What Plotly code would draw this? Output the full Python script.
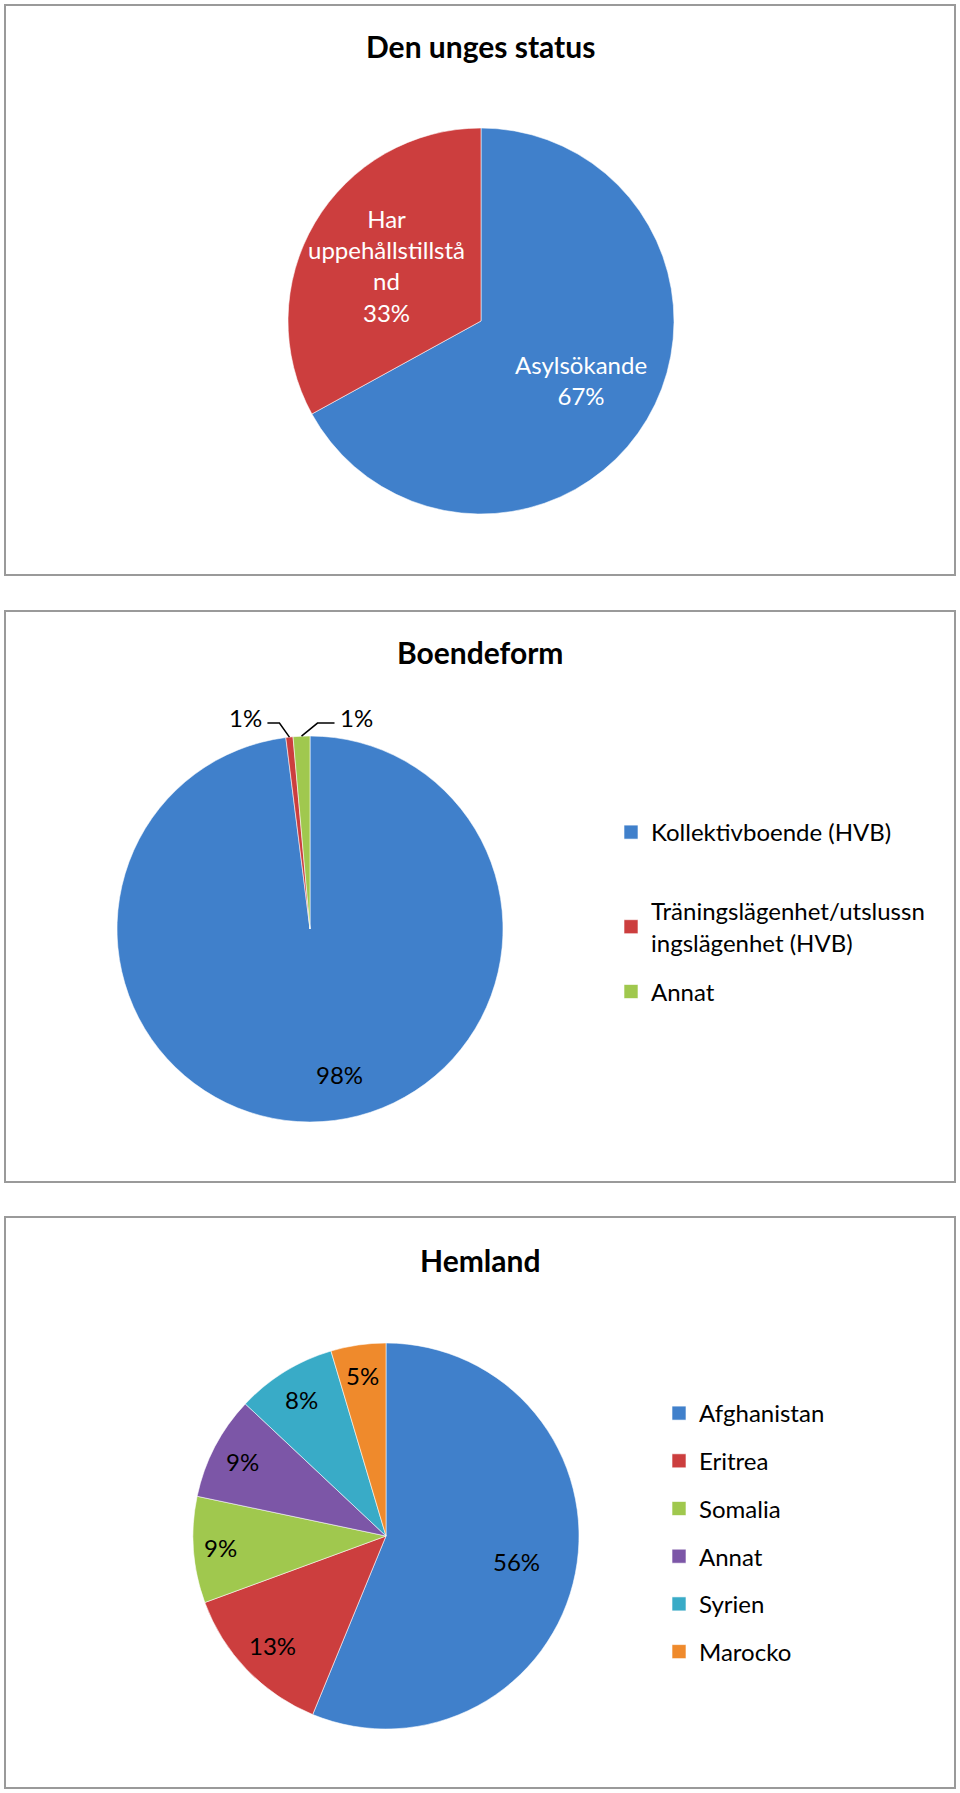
import math
import plotly.graph_objects as go

W, H = 960, 1793

# ---------------- data ----------------
status_labels = ["Asylsökande", "Har uppehållstillstånd"]
status_display = ["Asylsökande", "Har<br>uppehållstillstå<br>nd"]
status_values = [67, 33]

boende_labels = ["Kollektivboende (HVB)",
                 "Träningslägenhet/utslussningslägenhet (HVB)",
                 "Annat"]
boende_legend = ["Kollektivboende (HVB)",
                 "Träningslägenhet/utslussn<br>ingslägenhet (HVB)",
                 "Annat"]
boende_values = [98.0, 0.6, 1.4]

hemland_labels = ["Afghanistan", "Eritrea", "Somalia", "Annat", "Syrien", "Marocko"]
hemland_values = [56.2, 13.2, 8.9, 8.7, 8.4, 4.6]

titles = ["Den unges status", "Boendeform", "Hemland"]

# ---------------- style ----------------
BLUE, RED, GREEN = "#4080CB", "#CC3E3E", "#A0C84E"
PURPLE, CYAN, ORANGE = "#7C56A7", "#39ABC7", "#EF8A2C"
status_colors = [BLUE, RED]
boende_colors = [BLUE, RED, GREEN]
hemland_colors = [BLUE, RED, GREEN, PURPLE, CYAN, ORANGE]

FONT = "Lato, 'Open Sans', sans-serif"
LBL = 24
TITLE = 30

panels = [(5, 5, 955, 575), (5, 611, 955, 1182), (5, 1217, 955, 1788)]
title_y = [46, 652, 1260]
pies = [dict(cx=481, cy=321, r=193), dict(cx=310, cy=929, r=193), dict(cx=386, cy=1536, r=193)]

status_lbl_r = [0.60, 0.57]
boende_lbl = {0: (0.77, -8)}
hemland_lbl_r = [0.69, 0.82, 0.86, 0.84, 0.83, 0.84]
# legend groups for panel 2: first entry alone, remaining two together
boende_legend_ref = ["legend", "legend3", "legend3"]


def px(x):
    return x / W


def py(y):
    return 1 - y / H


def domain(p):
    return dict(x=[px(p["cx"] - p["r"]), px(p["cx"] + p["r"])],
                y=[py(p["cy"] + p["r"]), py(p["cy"] - p["r"])])


def mid_angles(values):
    tot = sum(values)
    out, acc = [], 0.0
    for v in values:
        out.append((acc + v / 2) / tot * 360)
        acc += v
    return out


def pct(values):
    tot = sum(values)
    return [f"{int(v / tot * 100 + 0.5)}%" for v in values]


def polar(p, ang, frac):
    a = math.radians(ang)
    return p["cx"] + frac * p["r"] * math.sin(a), p["cy"] - frac * p["r"] * math.cos(a)


fig = go.Figure()

line = dict(color="rgba(255,255,255,0.55)", width=1)
for vals, labs, cols, p in [(status_values, status_labels, status_colors, pies[0]),
                            (boende_values, boende_labels, boende_colors, pies[1]),
                            (hemland_values, hemland_labels, hemland_colors, pies[2])]:
    fig.add_trace(go.Pie(values=vals, labels=labs, sort=False, direction="clockwise",
                         rotation=0, textinfo="none", hoverinfo="label+percent",
                         marker=dict(colors=cols, line=line), domain=domain(p),
                         showlegend=False))

mk_line = dict(color="rgba(255,255,255,0.6)", width=1)
for i, (nm, c) in enumerate(zip(boende_legend, boende_colors)):
    fig.add_trace(go.Scatter(x=[None], y=[None], mode="markers", name=nm,
                             marker=dict(symbol="square", size=14, color=c, line=mk_line),
                             legend=boende_legend_ref[i], legendgroup=f"b{i}", showlegend=True))
for i, (nm, c) in enumerate(zip(hemland_labels, hemland_colors)):
    fig.add_trace(go.Scatter(x=[None], y=[None], mode="markers", name=nm,
                             marker=dict(symbol="square", size=14, color=c, line=mk_line),
                             legend="legend2", legendgroup=f"h{i}", showlegend=True))

ann = []
shapes = []
for (x0, y0, x1, y1) in panels:
    shapes.append(dict(type="rect", xref="paper", yref="paper", x0=px(x0), x1=px(x1),
                       y0=py(y1), y1=py(y0), line=dict(color="#9a9a9a", width=2)))
for t, ty in zip(titles, title_y):
    ann.append(dict(text=f"<b>{t}</b>", x=0.5, y=py(ty), xref="paper", yref="paper",
                    showarrow=False, font=dict(family=FONT, size=TITLE, color="#000"),
                    xanchor="center", yanchor="middle"))

# status labels
ps = pct(status_values)
for i, a in enumerate(mid_angles(status_values)):
    x, y = polar(pies[0], a, status_lbl_r[i])
    ann.append(dict(text=f"{status_display[i]}<br>{ps[i]}", x=px(x), y=py(y), xref="paper",
                    yref="paper", showarrow=False, align="center",
                    font=dict(family=FONT, size=LBL, color="#ffffff"),
                    xanchor="center", yanchor="middle"))

# boende labels
pb = pct(boende_values)
p2 = pies[1]
outside = {1: (-1, -10, 12), 2: (1, 16, 17)}
for i, a in enumerate(mid_angles(boende_values)):
    if i in boende_lbl:
        fr, da = boende_lbl[i]
        x, y = polar(p2, a + da, fr)
        ann.append(dict(text=pb[i], x=px(x), y=py(y), xref="paper", yref="paper",
                        showarrow=False, font=dict(family=FONT, size=LBL, color="#000"),
                        xanchor="center", yanchor="middle"))
    else:
        side, edx, ln = outside[i]
        ex, ey = polar(p2, a, 1.0)
        elx, ely = ex + edx, p2["cy"] - 1.067 * p2["r"]
        hx = elx + side * ln
        shapes.append(dict(type="path", xref="paper", yref="paper",
                           path=f"M{px(ex)},{py(ey)} L{px(elx)},{py(ely)} L{px(hx)},{py(ely)}",
                           line=dict(color="#000", width=1.5)))
        ann.append(dict(text=pb[i], x=px(hx + side * 3), y=py(ely - 6), xref="paper", yref="paper",
                        showarrow=False, font=dict(family=FONT, size=LBL, color="#000"),
                        xanchor="left" if side > 0 else "right", yanchor="middle"))

# hemland labels
ph = pct(hemland_values)
for i, a in enumerate(mid_angles(hemland_values)):
    x, y = polar(pies[2], a, hemland_lbl_r[i])
    ann.append(dict(text=ph[i], x=px(x), y=py(y), xref="paper", yref="paper",
                    showarrow=False, font=dict(family=FONT, size=LBL, color="#000"),
                    xanchor="center", yanchor="middle"))

leg_common = dict(xanchor="left", yanchor="top", font=dict(family=FONT, size=LBL, color="#000"),
                  bgcolor="rgba(0,0,0,0)", traceorder="grouped",
                  itemclick=False, itemdoubleclick=False)
fig.update_layout(
    width=W, height=H, margin=dict(l=0, r=0, t=0, b=0),
    paper_bgcolor="#ffffff", plot_bgcolor="rgba(0,0,0,0)",
    xaxis=dict(visible=False, domain=[0, 0.001]), yaxis=dict(visible=False, domain=[0, 0.001]),
    annotations=ann, shapes=shapes,
    legend=dict(x=px(611), y=py(810), tracegroupgap=14, **leg_common),
    legend3=dict(x=px(611), y=py(889), tracegroupgap=15, **leg_common),
    legend2=dict(x=px(659), y=py(1391), tracegroupgap=13.5, **leg_common),
    showlegend=True,
)

fig.write_html("out.html")
